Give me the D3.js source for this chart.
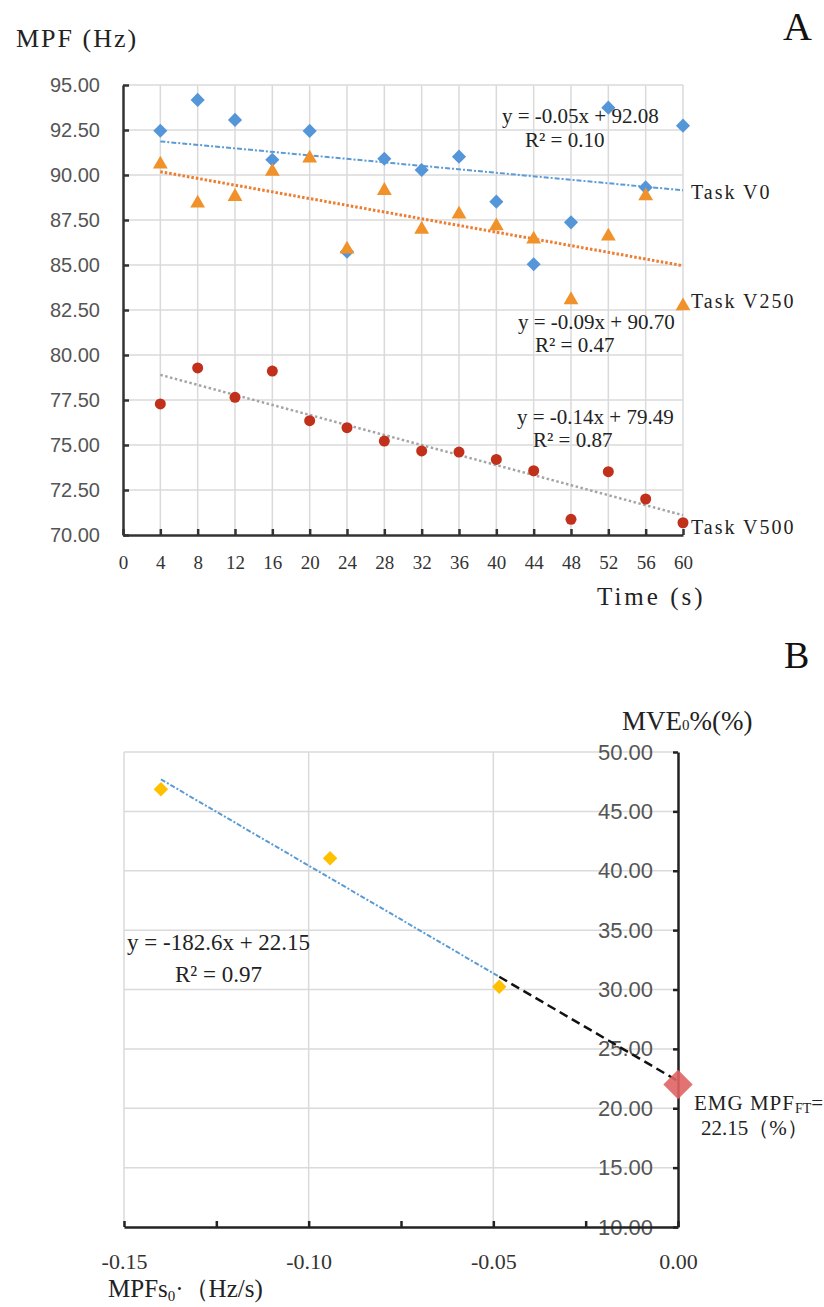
<!DOCTYPE html>
<html>
<head>
<meta charset="utf-8">
<script src="https://cdn.jsdelivr.net/npm/d3@7"></script>
<style>
  body { margin: 0; background: #fff; }
  .serif { font-family: "Liberation Serif", "Times New Roman", serif; }
  .sans { font-family: "Liberation Sans", Arial, sans-serif; }
</style>
</head>
<body>
<svg id="chart" width="824" height="1307"></svg>
<script>
// ---- panel A data: MPF over time for three tasks
var times = [4, 8, 12, 16, 20, 24, 28, 32, 36, 40, 44, 48, 52, 56, 60];
var taskV0 = [92.46, 94.17, 93.06, 90.85, 92.45, 85.74, 90.90, 90.28, 91.02, 88.52, 85.04, 87.37, 93.74, 89.31, 92.74];
var taskV250 = [90.60, 88.43, 88.80, 90.19, 90.93, 85.87, 89.13, 86.98, 87.82, 87.17, 86.43, 83.06, 86.60, 88.83, 82.72];
var taskV500 = [77.28, 79.28, 77.65, 79.11, 76.35, 75.96, 75.22, 74.67, 74.61, 74.20, 73.57, 70.87, 73.52, 72.00, 70.68];
var seriesNames = ["Task V0", "Task V250", "Task V500"];
var equationsA = [["y = -0.05x + 92.08", "R² = 0.10"], ["y = -0.09x + 90.70", "R² = 0.47"], ["y = -0.14x + 79.49", "R² = 0.87"]];
var yTicksA = [70, 72.5, 75, 77.5, 80, 82.5, 85, 87.5, 90, 92.5, 95];
var xTicksA = [0, 4, 8, 12, 16, 20, 24, 28, 32, 36, 40, 44, 48, 52, 56, 60];

// ---- panel B data: MPF slope vs MVE0%
var slopesB = [-0.14, -0.0942, -0.0484];
var mveB = [46.86, 41.05, 30.24];
var fatigueThreshold = 22.0; // EMG MPF_FT point at x = 0
var yTicksB = [10, 15, 20, 25, 30, 35, 40, 45, 50];
var xTicksB = [-0.15, -0.125, -0.10, -0.075, -0.05, -0.025, 0];

function fit(xs, ys) {
    var mx = d3.mean(xs), my = d3.mean(ys);
    var sxy = d3.sum(xs, (x, i) => (x - mx) * (ys[i] - my));
    var sxx = d3.sum(xs, x => (x - mx) * (x - mx));
    var b = sxy / sxx;
    return {slope: b, intercept: my - b * mx};
}

var svg = d3.select("#chart");

// ================= Panel A =================
var xA = d3.scaleLinear().domain([0, 60]).range([123, 683]);
var yA = d3.scaleLinear().domain([70, 95]).range([535, 85]);
var gA = svg.append("g");

// grid
gA.append("g").selectAll("line").data(xTicksA.slice(1)).join("line")
    .attr("x1", d => xA(d)).attr("x2", d => xA(d))
    .attr("y1", yA(95)).attr("y2", yA(70))
    .attr("stroke", "#dadada").attr("stroke-width", 1.5);
gA.append("g").selectAll("line").data(yTicksA.slice(1)).join("line")
    .attr("x1", xA(0)).attr("x2", xA(60))
    .attr("y1", d => yA(d)).attr("y2", d => yA(d))
    .attr("stroke", "#dadada").attr("stroke-width", 1.5);

// axes
gA.append("g")
    .attr("transform", `translate(${xA(0)},0)`)
    .call(d3.axisLeft(yA).tickValues(yTicksA).tickFormat(d => d.toFixed(2)).tickSize(-6).tickSizeOuter(0).tickPadding(23))
    .call(g => g.selectAll("text").attr("class", "sans").style("font-size", "20px").attr("fill", "#555"))
    .call(g => g.selectAll("path,line").attr("stroke", "#333").attr("stroke-width", 2.5));
gA.append("g")
    .attr("transform", `translate(0,${yA(70)})`)
    .call(d3.axisBottom(xA).tickValues(xTicksA).tickSize(-6).tickSizeOuter(0).tickPadding(21))
    .call(g => g.selectAll("text").attr("class", "serif").style("font-size", "19px").attr("fill", "#333"))
    .call(g => g.selectAll("path,line").attr("stroke", "#333").attr("stroke-width", 2.5));

var seriesA = [
    {name: seriesNames[0], values: taskV0, color: "#5596d8", line: "#5b9bd5", dash: "5,2,2,2", lw: 2, symbol: "diamond"},
    {name: seriesNames[1], values: taskV250, color: "#f0912a", line: "#ed7d31", dash: "2.5,2", lw: 3, symbol: "triangle"},
    {name: seriesNames[2], values: taskV500, color: "#c1301b", line: "#a5a5a5", dash: "2.5,2.5", lw: 2.5, symbol: "circle"}
];

// trend lines
seriesA.forEach(s => {
    var f = fit(times, s.values);
    var x0 = d3.min(times), x1 = d3.max(times);
    gA.append("line")
        .attr("x1", xA(x0)).attr("y1", yA(f.intercept + f.slope * x0))
        .attr("x2", xA(x1)).attr("y2", yA(f.intercept + f.slope * x1))
        .attr("stroke", s.line).attr("stroke-width", s.lw)
        .attr("stroke-dasharray", s.dash);
});

// markers
seriesA.forEach(s => {
    var sym = s.symbol == "diamond" ? d3.symbol(d3.symbolSquare, 100)
        : s.symbol == "triangle" ? d3.symbol(d3.symbolTriangle, 95)
        : d3.symbol(d3.symbolCircle, 95);
    gA.append("g").selectAll("path").data(s.values).join("path")
        .attr("d", sym)
        .attr("transform", (d, i) => `translate(${xA(times[i])},${yA(d)})` + (s.symbol == "diamond" ? " rotate(45)" : ""))
        .attr("fill", s.color);
});

// text annotations
svg.append("text").attr("class", "serif").attr("x", 16).attr("y", 47)
    .style("font-size", "26px").style("letter-spacing", "2px").attr("fill", "#222").text("MPF (Hz)");
svg.append("text").attr("class", "serif").attr("x", 783).attr("y", 40)
    .style("font-size", "40px").attr("fill", "#111").text("A");

var eqPosA = [[502, 123, 525, 147], [518, 329, 535, 352], [517, 424, 533, 447]];
equationsA.forEach((e, i) => {
    var p = eqPosA[i];
    svg.append("text").attr("class", "serif").attr("x", p[0]).attr("y", p[1])
        .style("font-size", "21px").attr("fill", "#222").text(e[0]);
    svg.append("text").attr("class", "serif").attr("x", p[2]).attr("y", p[3])
        .style("font-size", "21px").attr("fill", "#222").text(e[1]);
});
var labelY = [199, 308, 534];
seriesNames.forEach((n, i) => {
    svg.append("text").attr("class", "serif").attr("x", 691).attr("y", labelY[i])
        .style("font-size", "20px").style("letter-spacing", "2px").attr("fill", "#222").text(n);
});
svg.append("text").attr("class", "serif").attr("x", 597).attr("y", 605)
    .style("font-size", "25px").style("letter-spacing", "3px").attr("fill", "#222").text("Time (s)");

// ================= Panel B =================
var xB = d3.scaleLinear().domain([-0.15, 0]).range([124, 678]);
var yB = d3.scaleLinear().domain([10, 50]).range([1227, 752]);
var gB = svg.append("g");

gB.append("g").selectAll("line").data(yTicksB.slice(1)).join("line")
    .attr("x1", xB(-0.15)).attr("x2", xB(0))
    .attr("y1", d => yB(d)).attr("y2", d => yB(d))
    .attr("stroke", "#dadada").attr("stroke-width", 1.5);
gB.append("g").selectAll("line").data([-0.15, -0.10, -0.05]).join("line")
    .attr("x1", d => xB(d)).attr("x2", d => xB(d))
    .attr("y1", yB(50)).attr("y2", yB(10))
    .attr("stroke", "#dadada").attr("stroke-width", 1.5);

gB.append("g")
    .attr("transform", `translate(${xB(0)},0)`)
    .call(d3.axisLeft(yB).tickValues(yTicksB).tickFormat(d => d.toFixed(2)).tickSize(5).tickSizeOuter(0).tickPadding(20))
    .call(g => g.selectAll("text").attr("class", "sans").style("font-size", "22px").attr("fill", "#555"))
    .call(g => g.selectAll("path,line").attr("stroke", "#222").attr("stroke-width", 2.5));
gB.append("g")
    .attr("transform", `translate(0,${yB(10)})`)
    .call(d3.axisBottom(xB).tickValues(xTicksB).tickSize(-6).tickSizeOuter(0).tickPadding(26)
        .tickFormat(d => Math.abs(d * 20 - Math.round(d * 20)) < 1e-9 ? d.toFixed(2) : ""))
    .call(g => g.selectAll("text").attr("class", "serif").style("font-size", "22px").attr("fill", "#333"))
    .call(g => g.selectAll("path,line").attr("stroke", "#222").attr("stroke-width", 2.5));

var fB = fit(slopesB, mveB);
var xMinB = d3.min(slopesB), xMaxB = d3.max(slopesB);
gB.append("line")
    .attr("x1", xB(xMinB)).attr("y1", yB(fB.intercept + fB.slope * xMinB))
    .attr("x2", xB(xMaxB)).attr("y2", yB(fB.intercept + fB.slope * xMaxB))
    .attr("stroke", "#5b9bd5").attr("stroke-width", 2).attr("stroke-dasharray", "5,2,2,2");
gB.append("line")
    .attr("x1", xB(xMaxB)).attr("y1", yB(fB.intercept + fB.slope * xMaxB))
    .attr("x2", xB(0)).attr("y2", yB(fB.intercept))
    .attr("stroke", "#111").attr("stroke-width", 2.5).attr("stroke-dasharray", "9,5");

gB.append("g").selectAll("path").data(mveB).join("path")
    .attr("d", d3.symbol(d3.symbolSquare, 105))
    .attr("transform", (d, i) => `translate(${xB(slopesB[i])},${yB(d)}) rotate(45)`)
    .attr("fill", "#ffc000");
gB.append("path")
    .attr("d", d3.symbol(d3.symbolSquare, 430))
    .attr("transform", `translate(${xB(0)},${yB(fatigueThreshold)}) rotate(45)`)
    .attr("fill", "#e06363").attr("opacity", 0.9);

svg.append("text").attr("class", "serif").attr("x", 784).attr("y", 668)
    .style("font-size", "38px").attr("fill", "#111").text("B");
var t = svg.append("text").attr("class", "serif").attr("x", 622).attr("y", 730)
    .style("font-size", "27px").attr("fill", "#222");
t.append("tspan").text("MVE");
t.append("tspan").style("font-size", "15px").text("0");
t.append("tspan").text("%(%)");

svg.append("text").attr("class", "serif").attr("x", 127).attr("y", 950)
    .style("font-size", "23px").attr("fill", "#222").text("y = -182.6x + 22.15");
svg.append("text").attr("class", "serif").attr("x", 175).attr("y", 982)
    .style("font-size", "23px").attr("fill", "#222").text("R² = 0.97");

var e1 = svg.append("text").attr("class", "serif").attr("x", 694).attr("y", 1110)
    .style("font-size", "21px").attr("fill", "#222");
e1.append("tspan").style("letter-spacing", "1px").text("EMG MPF");
e1.append("tspan").style("font-size", "14px").attr("dy", 3).text("FT");
e1.append("tspan").attr("dy", -3).text("=");
svg.append("text").attr("class", "serif").attr("x", 701).attr("y", 1135)
    .style("font-size", "21px").attr("fill", "#222").text("22.15（%）");

var xl = svg.append("text").attr("class", "serif").attr("x", 108).attr("y", 1297)
    .style("font-size", "25px").attr("fill", "#222");
xl.append("tspan").text("MPFs");
xl.append("tspan").style("font-size", "15px").attr("dy", 4).text("0");
xl.append("tspan").attr("dy", -4).text("·（Hz/s)");
</script>
</body>
</html>
